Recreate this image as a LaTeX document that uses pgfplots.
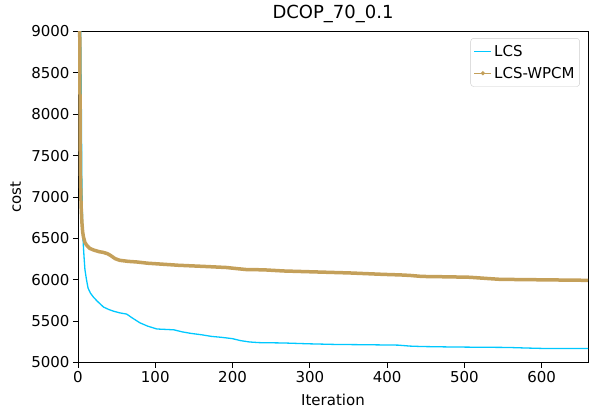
\documentclass[border=0pt]{standalone}
\usepackage{fontspec}
\setmainfont{DejaVu Sans}
\usepackage{pgfplots}
\pgfplotsset{compat=1.18}
\definecolor{lcs}{RGB}{0,200,255}
\definecolor{wpcm}{RGB}{196,160,90}
\begin{document}
\begin{tikzpicture}
\useasboundingbox (-78bp,-51.5bp) rectangle (522bp,362.5bp);
\begin{axis}[
  at={(0,0)}, anchor=south west,
  scale only axis, width=510bp, height=331bp,
  xmin=0, xmax=660, ymin=5000, ymax=9000,
  xtick={0,100,...,600}, ytick={5000,5500,...,9000},
  xtick pos=bottom, ytick pos=left,
  tick align=outside, major tick length=5bp,
  tick style={black, line width=0.8bp},
  axis line style={line width=0.8bp},
  /pgf/number format/assume math mode=true,
  scaled ticks=false, /pgf/number format/set thousands separator={},
  tick label style={font=\fontsize{15bp}{18bp}\selectfont},
  xlabel={Iteration}, ylabel={cost},
  label style={font=\fontsize{15bp}{18bp}\selectfont},
  xlabel style={at={(axis description cs:0.5,0)}, anchor=base, yshift=-42.5bp},
  ylabel style={at={(axis description cs:-0.112,0.5)}, anchor=base},
  title={DCOP\_70\_0.1},
  title style={font=\fontsize{18bp}{22bp}\selectfont, at={(axis description cs:0.5,1)}, anchor=base, yshift=7bp},
  legend style={at={(rel axis cs:0.984,0.98)}, anchor=north east, draw=black!20, rounded corners=3bp,
    font=\fontsize{15bp}{18bp}\selectfont, row sep=5bp, inner xsep=3bp, inner ysep=5bp},
  legend cell align=left,
]
\addplot[color=lcs, line width=1.3bp, forget plot] coordinates {
(0,13000) (3,9500) (4,8500) (5,7200) (6,6600) (7,6400) (8,6250) (9,6120) (11,6000) (13,5900) (16,5840) (20,5790) (25,5740) (33,5670) (40,5640) (46,5620) (54,5600) (63,5585) (70,5540) (80,5480) (90,5440) (102,5405) (124,5395) (135,5370) (146,5352) (160,5335) (173,5315) (185,5305) (200,5288) (210,5265) (222,5248) (235,5240) (266,5236) (298,5226) (334,5218) (370,5215) (414,5210) (430,5198) (445,5193) (480,5188) (512,5185) (556,5182) (580,5175) (601,5170) (660,5168)
};
\addplot[color=wpcm, line width=3.5bp, forget plot] coordinates {
(0,13000) (2,9500) (3,7365) (4,6900) (5,6700) (6,6580) (7,6520) (9,6450) (11,6420) (15,6380) (20,6360) (27,6340) (33,6330) (38,6315) (41,6300) (45,6275) (48,6255) (54,6235) (65,6222) (76,6215) (90,6200) (106,6190) (130,6175) (149,6167) (170,6158) (192,6148) (205,6135) (218,6123) (240,6120) (266,6106) (309,6094) (352,6082) (395,6065) (418,6058) (430,6052) (445,6040) (480,6035) (507,6030) (530,6015) (546,6005) (593,6000) (660,5993)
};
\addlegendimage{color=lcs, line width=1.5bp}
\addlegendentry{LCS}
\addlegendimage{color=wpcm, line width=1.2bp, mark=*, mark size=1.4bp, mark options={solid, fill=wpcm, draw=wpcm}}
\addlegendentry{LCS-WPCM}
\end{axis}
\end{tikzpicture}
\end{document}
